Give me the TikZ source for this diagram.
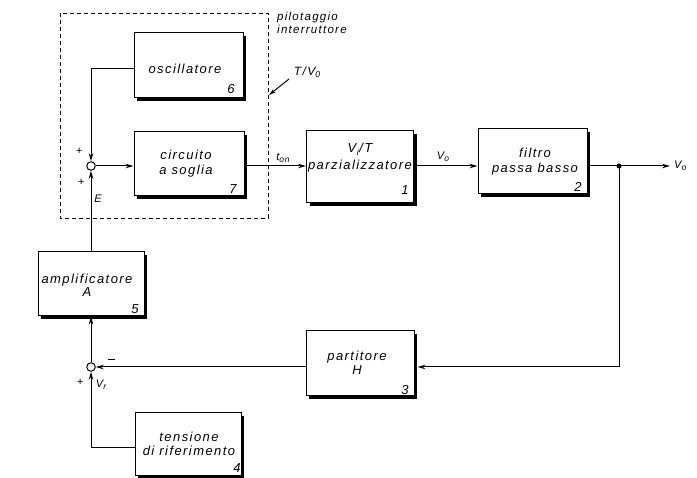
\documentclass[tikz,border=0pt]{standalone}
\usepackage{fontspec}
\setmainfont{Liberation Sans}[LetterSpace=11]
\usetikzlibrary{arrows.meta,shadows}
\newcommand\sbs[1]{\raisebox{-0.35ex}{\fontsize{8.5}{9}\selectfont #1}}
\begin{document}
\begin{tikzpicture}[x=1pt,y=-1pt,
  blk/.style={draw, line width=1pt, fill=white, inner sep=0pt,
    drop shadow={shadow xshift=3pt, shadow yshift=-3pt, fill=black, opacity=1}},
  wire/.style={line width=1pt},
  arr/.style={wire, -{Stealth[length=8pt,width=4.5pt]}},
  txt/.style={font=\fontsize{13}{16}\selectfont\itshape, align=center, inner sep=0pt},
  num/.style={font=\fontsize{13}{14}\selectfont\itshape, inner sep=0pt},
  sm/.style={font=\fontsize{11}{12}\selectfont\itshape, inner sep=0pt},
  sumj/.style={circle, draw, line width=1pt, fill=white, minimum size=8.5pt, inner sep=0pt}]
\useasboundingbox (0,0) rectangle (697,478);

% dashed group
\draw[line width=0.9pt, dash pattern=on 4pt off 3pt] (60,13) rectangle (268,218);
\node[sm, font=\fontsize{11.5}{13}\selectfont\itshape, align=left, anchor=north west] (pil) at (277,12) {pilotaggio\\interruttore};

% blocks
\node[blk, minimum width=109pt, minimum height=65pt] (osc) at (188.5,65.5) {};
\node[blk, minimum width=110pt, minimum height=64pt] (circ) at (189,164) {};
\node[blk, minimum width=107pt, minimum height=72pt] (vit) at (360,167) {};
\node[blk, minimum width=109pt, minimum height=65pt] (filt) at (532.5,161.5) {};
\node[blk, minimum width=106pt, minimum height=64pt] (amp) at (91,284) {};
\node[blk, minimum width=108pt, minimum height=65pt] (part) at (360,363.5) {};
\node[blk, minimum width=106pt, minimum height=63pt] (tens) at (188,444.5) {};

% summing junctions
\node[sumj] (s1) at (91,166) {};
\node[sumj] (s2) at (91,367) {};
\coordinate (dot) at (619,166);
\coordinate (out) at (670,166);

% block texts
\node[txt] (tosc) at (185,69) {oscillatore};
\node[txt] (tcirc) at (186,164) {circuito\\[-1pt]a soglia};
\node[txt] (tvit) at (360,158) {V\kern0.5pt\sbs{i}\kern0.5pt/T\\[1pt]parzializzatore};
\node[txt] (tfilt) at (535,162) {filtro\\[-1pt]passa basso};
\node[txt] (tamp) at (87,285) {amplificatore\\[-3pt]A};
\node[txt] (tpart) at (357,363) {partitore\\[-2pt]H};
\node[txt] (ttens) at (189,444) {tensione\\[-2pt]di riferimento};

% numbers
\node[num] (n6) at (231,89) {6};
\node[num] (n7) at (233,189) {7};
\node[num] (n1) at (405,190) {1};
\node[num] (n2) at (578,187) {2};
\node[num] (n5) at (135,309) {5};
\node[num] (n3) at (405,390) {3};
\node[num] (n4) at (237,468) {4};

% connectors
\draw[arr] ([yshift=-3.5pt]osc.west) -| (s1.north);
\draw[arr] (amp.north -| s1) -- (s1.south);
\draw[arr] (s1.east) -- (s1.east -| circ.west);
\draw[arr] (circ.east |- s1) -- (vit.west |- s1);
\draw[arr] (vit.east |- s1) -- (filt.west |- s1);
\draw[arr] (filt.east |- s1) -- (out);
\fill (dot) circle (2.5pt);
\draw[arr] (dot) |- ([xshift=3pt]part.east |- s2);
\draw[arr] (part.west |- s2) -- (s2.east);
\draw[arr] (s2.north) -- (s2 |- amp.south);
\draw[arr] ([yshift=-3.5pt]tens.west) -| (s2.south);

% T/V0 arrow
\coordinate (tv1) at (289,79);
\coordinate (tv2) at (269,95);
\draw[wire, -{Stealth[length=7pt,width=4pt]}] (tv1) -- (tv2);
\node[sm, font=\fontsize{12}{13}\selectfont\itshape] (ltv) at (307,72) {T/V\sbs{0}};

% signal labels
\node[sm] (lp1) at (79,151) {+};
\node[sm] (lp2) at (81,182) {+};
\node[sm] (lE) at (98,199) {E};
\node[sm] (lton) at (283,158) {t\sbs{on}};
\node[sm] (lvo) at (443,157) {V\sbs{o}};
\node[sm, anchor=west] (lvout) at (674,166) {V\sbs{o}};
\node[sm] (lm) at (111,360) {\rule{7pt}{1pt}};
\node[sm] (lp3) at (80,382) {+};
\node[sm] (lvr) at (101,385) {V\sbs{r}};
\end{tikzpicture}
\end{document}
